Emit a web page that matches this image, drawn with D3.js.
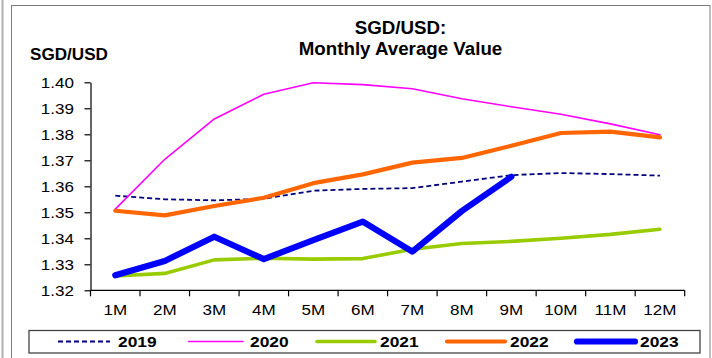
<!DOCTYPE html>
<html>
<head>
<meta charset="utf-8">
<script src="https://cdn.jsdelivr.net/npm/d3@7/dist/d3.min.js"></script>
<style>
  html, body { margin: 0; padding: 0; background: #fff; }
  svg { display: block; font-family: "Liberation Sans", Arial, sans-serif; }
</style>
</head>
<body>
<svg id="chart" width="712" height="358"></svg>
<script>
// Monthly average SGD/USD by year
const months = ["1M","2M","3M","4M","5M","6M","7M","8M","9M","10M","11M","12M"];
const years = ["2019","2020","2021","2022","2023"];
const v2019 = [1.3564,1.3550,1.3546,1.3552,1.3583,1.3590,1.3593,1.3618,1.3643,1.3651,1.3647,1.3641];
const v2020 = [1.3512,1.3704,1.3859,1.3954,1.3998,1.3991,1.3975,1.3937,1.3906,1.3877,1.3840,1.3798];
const v2021 = [1.3255,1.3265,1.3317,1.3323,1.3320,1.3322,1.3358,1.3380,1.3388,1.3400,1.3415,1.3435];
const v2022 = [1.3506,1.3488,1.3524,1.3556,1.3612,1.3646,1.3691,1.3709,1.3756,1.3805,1.3810,1.3788];
const v2023 = [1.3258,1.3313,1.3406,1.3320,1.3393,1.3464,1.3349,1.3505,1.3637];
const yTicks = [1.32,1.33,1.34,1.35,1.36,1.37,1.38,1.39,1.40];

const seriesValues = [v2019, v2020, v2021, v2022, v2023];
const styles = [
  { color: "#000080", width: 1.8, dash: "5,3" },
  { color: "#FF00FF", width: 1.6, dash: null },
  { color: "#99CC00", width: 3.6, dash: null },
  { color: "#FF6600", width: 4.2, dash: null },
  { color: "#0000FF", width: 6.2, dash: null }
];

const svg = d3.select("#chart");
const SX = 1.1; // slightly widened lettering

function label(parent, x, y, txt, o = {}) {
  return parent.append("text")
    .attr("transform", `translate(${x},${y}) scale(${o.sx || SX},1)`)
    .attr("text-anchor", o.anchor || "start")
    .attr("font-size", o.size || 15)
    .attr("font-weight", o.bold ? "bold" : "normal")
    .attr("fill", "#000")
    .text(txt);
}

// outer frame
svg.append("line").attr("x1", 2.5).attr("x2", 2.5).attr("y1", 0).attr("y2", 358)
  .attr("stroke", "#b0b0b0").attr("stroke-width", 2);
svg.append("rect").attr("x", 11.5).attr("y", 5.5).attr("width", 698.5).attr("height", 360)
  .attr("fill", "none").attr("stroke", "#7a7a7a").attr("stroke-width", 1);

// titles
label(svg, 400.5, 34, "SGD/USD:", { anchor: "middle", size: 17.5, bold: true, sx: 1.07 });
label(svg, 400.5, 54.5, "Monthly Average Value", { anchor: "middle", size: 17.5, bold: true, sx: 1.07 });
label(svg, 30, 60, "SGD/USD", { size: 16, bold: true, sx: 1.07 });

// scales
const x = d3.scaleBand().domain(months).range([90.5, 684.7]).paddingInner(0).paddingOuter(0);
const y = d3.scaleLinear().domain([1.32, 1.40]).range([290.3, 82.3]);
const cx = m => x(m) + x.bandwidth() / 2;

// y axis
const yAxis = svg.append("g").attr("transform", `translate(${x.range()[0]},0)`)
  .call(d3.axisLeft(y).tickValues(yTicks).tickSize(6).tickSizeOuter(0).tickFormat(d3.format(".2f")));
yAxis.select(".domain").attr("stroke", "#000").attr("stroke-width", 1.2);
yAxis.selectAll(".tick line").attr("stroke", "#000").attr("stroke-width", 1.2);
yAxis.selectAll(".tick text").remove();
yTicks.forEach(t => label(svg, 74, y(t) + 5.5, d3.format(".2f")(t), { anchor: "end", size: 15.5 }));

// x axis with ticks on category boundaries
const xg = svg.append("g");
const [x0, x1] = x.range();
xg.append("line").attr("x1", x0).attr("x2", x1).attr("y1", y(1.32)).attr("y2", y(1.32))
  .attr("stroke", "#000").attr("stroke-width", 1.2);
d3.range(months.length + 1).forEach(i => {
  const xx = x0 + i * x.step();
  xg.append("line").attr("x1", xx).attr("x2", xx).attr("y1", y(1.32)).attr("y2", y(1.32) + 6)
    .attr("stroke", "#000").attr("stroke-width", 1.2);
});
months.forEach(m => label(svg, cx(m), 315, m, { anchor: "middle", size: 15.5 }));

// series lines
const line = d3.line().x((d, i) => cx(months[i])).y(d => y(d));
seriesValues.forEach((vals, k) => {
  const s = styles[k];
  svg.append("path").datum(vals)
    .attr("d", line)
    .attr("fill", "none")
    .attr("stroke", s.color)
    .attr("stroke-width", s.width)
    .attr("stroke-linejoin", "round")
    .attr("stroke-linecap", k === 0 ? "butt" : "round")
    .attr("stroke-dasharray", s.dash);
});

// legend
const lg = svg.append("g");
lg.append("rect").attr("x", 29).attr("y", 330.5).attr("width", 671).attr("height", 22.5)
  .attr("fill", "#fff").attr("stroke", "#444").attr("stroke-width", 1.3);
const legendLine = [[58, 110, 118], [188.7, 243, 250], [317, 375, 380], [447, 505, 510], [577, 635, 640]];
years.forEach((yr, k) => {
  const s = styles[k];
  const [a, b, t] = legendLine[k];
  lg.append("line").attr("x1", a).attr("x2", b).attr("y1", 341.5).attr("y2", 341.5)
    .attr("stroke", s.color).attr("stroke-width", s.width)
    .attr("stroke-linecap", k === 0 ? "butt" : "round")
    .attr("stroke-dasharray", s.dash);
  label(lg, t, 347, yr, { size: 15.5, bold: true, sx: 1.12 });
});
</script>
</body>
</html>
